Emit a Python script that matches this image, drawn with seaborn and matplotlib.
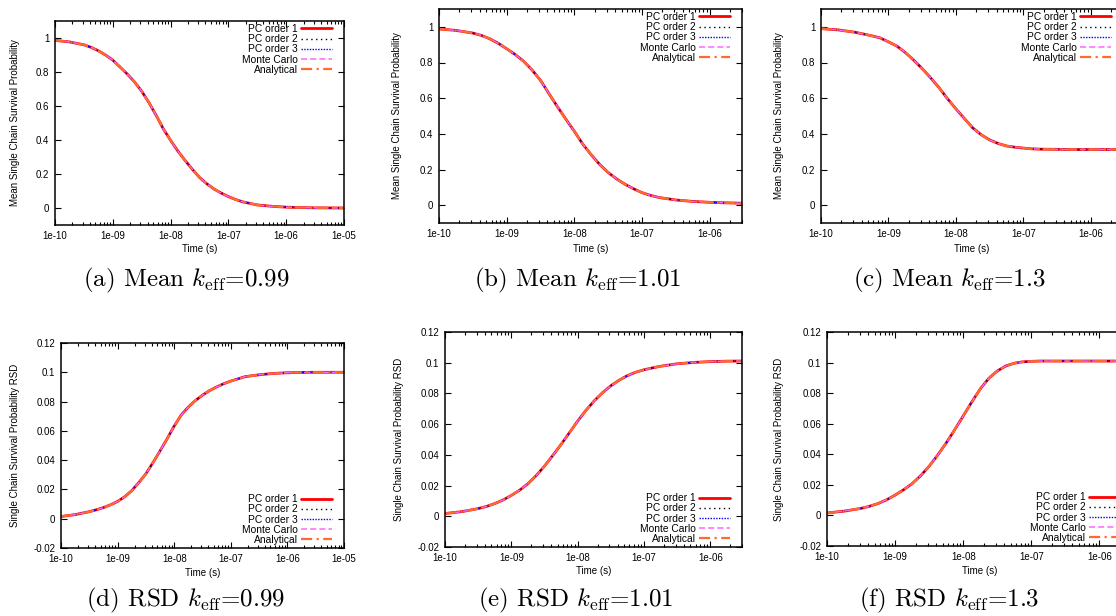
import numpy as np
import pandas as pd
import matplotlib
matplotlib.use("Agg")
import matplotlib.pyplot as plt
import matplotlib.ticker as mticker
import seaborn as sns

# log10 of time in seconds: quarter decades on the flat parts, eighth decades on the slope
log_time_long = [-10.0, -9.75, -9.5, -9.375, -9.25, -9.125, -9.0, -8.875, -8.75, -8.625,
                 -8.5, -8.375, -8.25, -8.125, -8.0, -7.875, -7.75, -7.625, -7.5, -7.375,
                 -7.25, -7.125, -7.0, -6.875, -6.75, -6.5, -6.25, -6.0, -5.75, -5.5,
                 -5.25, -5.0]
log_time_short = [-10.0, -9.75, -9.5, -9.375, -9.25, -9.125, -9.0, -8.875, -8.75, -8.625,
                  -8.5, -8.375, -8.25, -8.125, -8.0, -7.875, -7.75, -7.625, -7.5, -7.375,
                  -7.25, -7.125, -7.0, -6.875, -6.75, -6.5, -6.25, -6.0, -5.75, -5.52]

# the five methods lie on top of each other in every panel, so one read-off curve per panel
mean_k099 = [0.986, 0.977, 0.960, 0.945, 0.925, 0.900, 0.870, 0.829, 0.788, 0.742,
             0.687, 0.620, 0.545, 0.465, 0.398, 0.335, 0.280, 0.228, 0.180, 0.143,
             0.112, 0.088, 0.067, 0.050, 0.036, 0.018, 0.010, 0.005, 0.0025, 0.001,
             0.0004, 0.0001]
mean_k101 = [0.988, 0.980, 0.965, 0.952, 0.933, 0.908, 0.877, 0.845, 0.807, 0.758,
             0.700, 0.625, 0.552, 0.482, 0.414, 0.342, 0.282, 0.228, 0.183, 0.147,
             0.117, 0.092, 0.070, 0.055, 0.043, 0.029, 0.021, 0.016, 0.013, 0.011]
mean_k130 = [0.990, 0.983, 0.970, 0.960, 0.950, 0.938, 0.916, 0.892, 0.856, 0.813,
             0.766, 0.714, 0.659, 0.597, 0.540, 0.486, 0.433, 0.395, 0.366, 0.346,
             0.332, 0.325, 0.320, 0.316, 0.314, 0.313, 0.312, 0.312, 0.312, 0.312]
rsd_k099 = [0.0015, 0.0028, 0.0048, 0.0061, 0.0076, 0.0095, 0.0118, 0.0150, 0.0192, 0.0247,
            0.0307, 0.0383, 0.0463, 0.0546, 0.0633, 0.0709, 0.0763, 0.0807, 0.0844, 0.0875,
            0.0900, 0.0922, 0.0940, 0.0955, 0.0970, 0.0983, 0.0992, 0.0997, 0.0999, 0.1000,
            0.1000, 0.1000]
rsd_k101 = [0.0018, 0.0030, 0.0050, 0.0064, 0.0083, 0.0106, 0.0136, 0.0170, 0.0212, 0.0265,
            0.0327, 0.0396, 0.0468, 0.0544, 0.0620, 0.0690, 0.0752, 0.0805, 0.0850, 0.0886,
            0.0916, 0.0938, 0.0954, 0.0966, 0.0977, 0.0993, 0.1002, 0.1007, 0.1010, 0.1011]
rsd_k130 = [0.0016, 0.0028, 0.0046, 0.0060, 0.0078, 0.0102, 0.0133, 0.0168, 0.0208, 0.0260,
            0.0322, 0.0395, 0.0474, 0.0561, 0.0651, 0.0742, 0.0828, 0.0897, 0.0945, 0.0978,
            0.0996, 0.1005, 0.1008, 0.1010, 0.1010, 0.1010, 0.1010, 0.1010, 0.1010, 0.1010]

methods = ["PC order 1", "PC order 2", "PC order 3", "Monte Carlo", "Analytical"]
method_colors = ["#ff0000", "#000000", "#0000ff", "#ff66ff", "#ff6a30"]
method_styles = ["-", (0, (1, 2.5)), (0, (1, 1)), (0, (4, 2)), (0, (5, 2, 1, 2))]
method_widths = [2.0, 1.0, 1.0, 1.1, 1.6]

mean_yticks = [0, 0.2, 0.4, 0.6, 0.8, 1]
rsd_yticks = [-0.02, 0, 0.02, 0.04, 0.06, 0.08, 0.1, 0.12]
mean_ylabel = "Mean Single Chain Survival Probability"
rsd_ylabel = "Single Chain Survival Probability RSD"

sns.set_theme(style="white")
plt.rcParams["font.family"] = ["Liberation Sans", "DejaVu Sans"]
plt.rcParams["mathtext.fontset"] = "cm"
for key in ["axes.edgecolor", "text.color", "axes.labelcolor", "xtick.color", "ytick.color"]:
    plt.rcParams[key] = "black"

W, H = 1116, 616
fig = plt.figure(figsize=(W / 100, H / 100), dpi=100)
fig.patch.set_facecolor("white")

# box = (left, top, right, bottom) in pixels, ylabel x, xlabel y, caption centre
panels = [
    dict(box=(55, 21, 344, 225), t=log_time_long, y=mean_k099, xmax=1e-5, ylim=(-0.1, 1.1),
         yticks=mean_yticks, ylabel=mean_ylabel, leg="upper", ylab_x=15, xlab_y=249,
         cap=(186, 280), text=r"(a) Mean $k_{\mathrm{eff}}$=0.99"),
    dict(box=(439, 9, 742, 223), t=log_time_short, y=mean_k101, xmax=3e-6, ylim=(-0.1, 1.1),
         yticks=mean_yticks, ylabel=mean_ylabel, leg="upper", ylab_x=397, xlab_y=249,
         cap=(578, 280), text=r"(b) Mean $k_{\mathrm{eff}}$=1.01"),
    dict(box=(821, 9, 1123, 223), t=log_time_short, y=mean_k130, xmax=3e-6, ylim=(-0.1, 1.1),
         yticks=mean_yticks, ylabel=mean_ylabel, leg="upper", ylab_x=779, xlab_y=249,
         cap=(949, 280), text=r"(c) Mean $k_{\mathrm{eff}}$=1.3"),
    dict(box=(61, 343, 344, 548), t=log_time_long, y=rsd_k099, xmax=1e-5, ylim=(-0.02, 0.12),
         yticks=rsd_yticks, ylabel=rsd_ylabel, leg="lower", ylab_x=15, xlab_y=573,
         cap=(186, 600), text=r"(d) RSD $k_{\mathrm{eff}}$=0.99"),
    dict(box=(445, 332, 742, 547), t=log_time_short, y=rsd_k101, xmax=3e-6, ylim=(-0.02, 0.12),
         yticks=rsd_yticks, ylabel=rsd_ylabel, leg="lower", ylab_x=399, xlab_y=571,
         cap=(576, 600), text=r"(e) RSD $k_{\mathrm{eff}}$=1.01"),
    dict(box=(827, 332, 1132, 546), t=log_time_short, y=rsd_k130, xmax=3e-6, ylim=(-0.02, 0.12),
         yticks=rsd_yticks, ylabel=rsd_ylabel, leg="lower", ylab_x=779, xlab_y=571,
         cap=(949, 600), text=r"(f) RSD $k_{\mathrm{eff}}$=1.3"),
]

fs = 7.0
leg_fs = 7.4

for p in panels:
    left, top, right, bottom = p["box"]
    w, h = right - left, bottom - top
    ax = fig.add_axes([left / W, 1 - bottom / H, w / W, h / H])

    time = 10 ** np.array(p["t"])
    df = pd.DataFrame({"time": time, "value": p["y"]})
    for name, col, ls, lw in zip(methods, method_colors, method_styles, method_widths):
        sns.lineplot(data=df, x="time", y="value", ax=ax, color=col, linestyle=ls,
                     lw=lw, label=name, legend=False)

    ax.set_xscale("log")
    ax.set_xlim(1e-10, p["xmax"])
    ax.set_ylim(*p["ylim"])
    ax.set_yticks(p["yticks"])
    ax.yaxis.set_major_formatter(mticker.FuncFormatter(lambda v, pos: f"{v:g}"))

    # only ticks inside the axis range, so no hidden labels hang off the page
    decades = [d for d in range(-10, -4) if 10.0 ** d <= p["xmax"] * 1.0001]
    minors = [m * 10.0 ** d for d in range(-10, -5) for m in range(2, 10)
              if m * 10.0 ** d <= p["xmax"]]
    ax.xaxis.set_major_locator(mticker.FixedLocator([10.0 ** d for d in decades]))
    ax.xaxis.set_minor_locator(mticker.FixedLocator(minors))
    ax.xaxis.set_minor_formatter(mticker.NullFormatter())
    ax.xaxis.set_major_formatter(mticker.FuncFormatter(lambda v, pos: f"{v:.0e}"))

    ax.tick_params(which="both", direction="in", top=True, right=True, bottom=True, left=True,
                   labelsize=fs, colors="black", width=0.8, pad=4)
    ax.tick_params(which="major", length=4)
    ax.tick_params(which="minor", length=2)
    for sp in ax.spines.values():
        sp.set_color("black")
        sp.set_linewidth(1.1)
    ax.grid(False)

    ax.set_xlabel("Time (s)", fontsize=fs)
    ax.set_ylabel(p["ylabel"], fontsize=fs)
    ax.xaxis.set_label_coords(0.5, (bottom - p["xlab_y"]) / h)
    ax.xaxis.label.set_va("center")
    ax.yaxis.set_label_coords((p["ylab_x"] - left) / w, 0.5)
    ax.yaxis.label.set_va("center")

    if p["leg"] == "upper":
        loc, anchor = "upper right", (1 - 12 / w, 1 - 3 / h)
    else:
        loc, anchor = "lower right", (1 - 12 / w, 3 / h)
    ax.legend(loc=loc, bbox_to_anchor=anchor, markerfirst=False, frameon=False, fontsize=leg_fs,
              handlelength=3.0, handletextpad=0.3, labelspacing=0.02, borderpad=0,
              borderaxespad=0)

    fig.text(p["cap"][0] / W, 1 - p["cap"][1] / H, p["text"], ha="center", va="center",
             fontsize=18, family="cmr10")

fig.savefig("out.png", dpi=100, facecolor="white")
